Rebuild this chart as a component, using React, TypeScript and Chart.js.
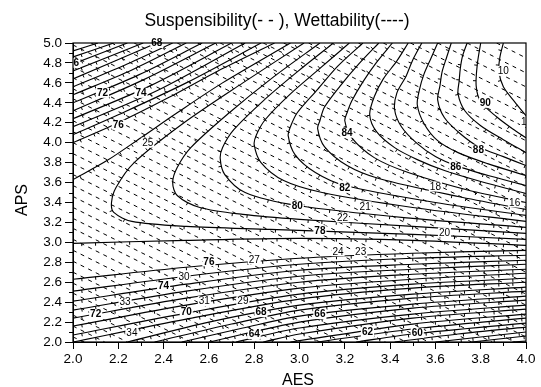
import React, { useEffect, useRef } from "react";
import { Chart, registerables } from "chart.js";

Chart.register(...registerables);

type Pt = [number, number];

const FONT = '"Liberation Sans", Arial, Helvetica, sans-serif';

// ---------- axis ----------
const xRange = [2.0, 4.0];
const yRange = [2.0, 5.0];
const xMinorTicks = [2.1, 2.3, 2.5, 2.7, 2.9, 3.1, 3.3, 3.5, 3.7, 3.9];
const yMinorTicks = [2.1, 2.3, 2.5, 2.7, 2.9, 3.1, 3.3, 3.5, 3.7, 3.9, 4.1, 4.3, 4.5, 4.7, 4.9];
const chartTitle = "Suspensibility(- - ), Wettability(----)";
const xTitle = "AES";
const yTitle = "APS";

// ---------- Suspensibility (solid contours) ----------
// upper-left family: left edge -> top edge
const suspUpperLeftLevels = [64, 65, 66, 67, 68, 69, 70, 71, 72, 73, 74, 75, 76, 77];
const suspUpperLeftLines: Pt[][] = [
  [[2, 4.92], [2.11, 5]],
  [[2, 4.86], [2.18, 5]],
  [[2, 4.79], [2.24, 5]],
  [[2, 4.72], [2.31, 5]],
  [[2, 4.64], [2.37, 5]],
  [[2, 4.56], [2.23, 4.78], [2.44, 5]],
  [[2, 4.48], [2.26, 4.73], [2.5, 5]],
  [[2, 4.4], [2.29, 4.68], [2.57, 5]],
  [[2, 4.32], [2.31, 4.63], [2.63, 5]],
  [[2, 4.24], [2.34, 4.57], [2.7, 5]],
  [[2, 4.16], [2.37, 4.52], [2.76, 5]],
  [[2, 4.08], [2.2, 4.28], [2.5, 4.6], [2.83, 5]],
  [[2, 4.0], [2.2, 4.2], [2.42, 4.45], [2.64, 4.72], [2.89, 5]],
  [[2, 3.63], [2.15, 3.82], [2.3, 4.05], [2.46, 4.3], [2.66, 4.6], [2.96, 5]],
];

// C-shaped family: top edge -> vertex -> right edge
const suspCurveLevels = [78, 79, 80, 81, 82, 83, 84, 85, 86, 87, 88, 89, 90, 91];
const suspCurveLines: Pt[][] = [
  [[3.02, 5], [2.75, 4.6], [2.49, 4.2], [2.27, 3.8], [2.19, 3.55], [2.17, 3.4], [2.18, 3.3], [2.26, 3.21], [2.5, 3.16], [2.87, 3.13], [3.5, 3.08], [4, 3.03]],
  [[3.09, 5], [2.88, 4.65], [2.69, 4.3], [2.52, 3.95], [2.46, 3.75], [2.44, 3.6], [2.46, 3.47], [2.56, 3.35], [2.75, 3.28], [3, 3.23], [3.5, 3.16], [4, 3.09]],
  [[3.15, 5], [2.99, 4.71], [2.84, 4.42], [2.71, 4.13], [2.66, 3.95], [2.65, 3.84], [2.67, 3.68], [2.76, 3.5], [2.99, 3.37], [3.5, 3.24], [4, 3.15]],
  [[3.22, 5], [3.09, 4.745], [2.96, 4.49], [2.85, 4.235], [2.81, 4.08], [2.8, 3.98], [2.83, 3.8], [2.93, 3.62], [3.1, 3.5], [3.5, 3.35], [4, 3.21]],
  [[3.28, 5], [3.17, 4.77], [3.08, 4.535], [2.99, 4.3], [2.96, 4.16], [2.95, 4.07], [2.98, 3.88], [3.07, 3.7], [3.2, 3.57], [3.6, 3.4], [4, 3.27]],
  [[3.35, 5], [3.26, 4.785], [3.18, 4.57], [3.11, 4.355], [3.09, 4.22], [3.08, 4.14], [3.11, 3.96], [3.21, 3.77], [3.35, 3.64], [3.7, 3.46], [4, 3.33]],
  [[3.41, 5], [3.34, 4.805], [3.28, 4.61], [3.23, 4.415], [3.21, 4.3], [3.2, 4.22], [3.23, 4.05], [3.33, 3.85], [3.48, 3.7], [3.75, 3.52], [4, 3.4]],
  [[3.48, 5], [3.43, 4.82], [3.37, 4.64], [3.33, 4.46], [3.31, 4.28], [3.34, 4.11], [3.42, 3.95], [3.52, 3.83], [3.64, 3.72], [3.8, 3.61], [4, 3.49]],
  [[3.54, 5], [3.5, 4.83], [3.47, 4.665], [3.43, 4.5], [3.42, 4.33], [3.45, 4.16], [3.52, 3.99], [3.6, 3.86], [3.69, 3.77], [3.85, 3.66], [4, 3.57]],
  [[3.61, 5], [3.58, 4.845], [3.55, 4.69], [3.53, 4.535], [3.52, 4.38], [3.55, 4.19], [3.61, 4.02], [3.7, 3.9], [3.83, 3.79], [4, 3.67]],
  [[3.67, 5], [3.65, 4.86], [3.63, 4.715], [3.62, 4.57], [3.61, 4.43], [3.64, 4.25], [3.71, 4.09], [3.79, 3.96], [3.9, 3.86], [4, 3.77]],
  [[3.74, 5], [3.72, 4.87], [3.71, 4.745], [3.705, 4.62], [3.7, 4.49], [3.73, 4.32], [3.8, 4.17], [3.9, 4.03], [4, 3.9]],
  [[3.8, 5], [3.785, 4.785], [3.78, 4.57], [3.8, 4.41], [3.87, 4.26], [3.94, 4.14], [4, 4.05]],
  [[3.9, 5], [3.885, 4.86], [3.88, 4.72], [3.9, 4.56], [3.95, 4.41], [4, 4.27]],
];

// lower family: left / bottom edge -> right edge
const suspLowerLevels = [77, 76, 75, 74, 73, 72, 71, 70, 69, 68, 67, 66, 65, 64, 63, 62, 61, 60, 59, 58, 57, 56];
const suspLowerLines: Pt[][] = [
  [[2, 2.99], [2.5, 3.02], [3, 3.04], [3.5, 3.02], [4, 2.97]],
  [[2, 2.63], [2.5, 2.75], [3, 2.84], [3.5, 2.89], [4, 2.92]],
  [[2, 2.51], [2.5, 2.66], [3, 2.78], [3.5, 2.84], [4, 2.87]],
  [[2, 2.41], [2.5, 2.58], [3, 2.72], [3.5, 2.78], [4, 2.82]],
  [[2, 2.32], [2.5, 2.51], [3, 2.66], [3.5, 2.73], [4, 2.78]],
  [[2, 2.24], [2.5, 2.44], [3, 2.6], [3.5, 2.68], [4, 2.73]],
  [[2, 2.16], [2.5, 2.37], [3, 2.54], [3.5, 2.63], [4, 2.69]],
  [[2, 2.07], [2.5, 2.29], [3, 2.48], [3.5, 2.58], [4, 2.64]],
  [[2, 2.0], [2.5, 2.23], [3, 2.43], [3.5, 2.54], [4, 2.6]],
  [[2.24, 2], [2.6, 2.2], [3, 2.37], [3.5, 2.48], [4, 2.55]],
  [[2.36, 2], [2.7, 2.18], [3, 2.32], [3.5, 2.44], [4, 2.51]],
  [[2.48, 2], [2.75, 2.14], [3, 2.26], [3.5, 2.38], [4, 2.46]],
  [[2.6, 2], [3, 2.2], [3.5, 2.34], [4, 2.42]],
  [[2.72, 2], [3, 2.14], [3.5, 2.28], [4, 2.37]],
  [[2.84, 2], [3, 2.08], [3.5, 2.24], [4, 2.33]],
  [[2.96, 2], [3.5, 2.18], [4, 2.28]],
  [[3.08, 2], [3.5, 2.13], [4, 2.24]],
  [[3.25, 2], [3.5, 2.08], [4, 2.19]],
  [[3.42, 2], [3.7, 2.08], [4, 2.15]],
  [[3.6, 2], [4, 2.1]],
  [[3.76, 2], [4, 2.06]],
  [[3.94, 2], [4, 2.01]],
];

// ---------- Wettability (dashed contours): upper-left end / lower-right end ----------
const wetLineStart: Pt[] = [
  [2, 2.05], [2, 2.16], [2, 2.27], [2, 2.38], [2, 2.49], [2, 2.59], [2, 2.7], [2, 2.81], [2, 2.92], [2, 3.03],
  [2, 3.14], [2, 3.24], [2, 3.35], [2, 3.46], [2, 3.57], [2, 3.68], [2, 3.79], [2, 3.89], [2, 4.0], [2, 4.11],
  [2, 4.22], [2, 4.33], [2, 4.44], [2, 4.54], [2, 4.65], [2, 4.76], [2, 4.87], [2, 4.98], [2.08, 5], [2.17, 5],
  [2.27, 5], [2.36, 5], [2.46, 5], [2.55, 5], [2.65, 5], [2.74, 5], [2.84, 5], [2.93, 5], [3.04, 5], [3.14, 5],
  [3.26, 5], [3.37, 5], [3.49, 5], [3.61, 5], [3.74, 5], [3.87, 5],
];
const wetLineEnd: Pt[] = [
  [2.05, 2], [2.14, 2], [2.24, 2], [2.33, 2], [2.43, 2], [2.52, 2], [2.62, 2], [2.71, 2], [2.81, 2], [2.9, 2],
  [3.0, 2], [3.09, 2], [3.19, 2], [3.28, 2], [3.38, 2], [3.47, 2], [3.57, 2], [3.66, 2], [3.76, 2], [3.85, 2],
  [3.95, 2], [4, 2.05], [4, 2.16], [4, 2.26], [4, 2.37], [4, 2.48], [4, 2.59], [4, 2.7], [4, 2.81], [4, 2.91],
  [4, 3.02], [4, 3.13], [4, 3.24], [4, 3.35], [4, 3.46], [4, 3.56], [4, 3.67], [4, 3.79], [4, 3.9], [4, 4.02],
  [4, 4.15], [4, 4.28], [4, 4.42], [4, 4.56], [4, 4.7], [4, 4.85],
];

// ---------- contour labels ----------
const suspLabelText = ["68", "6", "72", "74", "76", "84", "82", "80", "78", "86", "88", "90", "76", "74", "72", "70", "68", "66", "64", "62", "60"];
const suspLabelX = [2.37, 2.015, 2.13, 2.3, 2.2, 3.21, 3.2, 2.99, 3.09, 3.69, 3.79, 3.82, 2.6, 2.4, 2.1, 2.5, 2.83, 3.09, 2.8, 3.3, 3.52];
const suspLabelY = [5.0, 4.8, 4.5, 4.5, 4.18, 4.1, 3.55, 3.37, 3.12, 3.76, 3.93, 4.4, 2.81, 2.56, 2.28, 2.3, 2.3, 2.28, 2.08, 2.1, 2.09];

const wetLabelText = ["25", "27", "30", "33", "31", "29", "34", "24", "23", "22", "21", "20", "18", "16", "10", "1"];
const wetLabelX = [2.33, 2.8, 2.49, 2.23, 2.58, 2.75, 2.26, 3.17, 3.27, 3.19, 3.29, 3.64, 3.6, 3.95, 3.9, 3.99];
const wetLabelY = [4.0, 2.83, 2.65, 2.4, 2.41, 2.41, 2.09, 2.91, 2.91, 3.25, 3.36, 3.1, 3.56, 3.4, 4.72, 4.21];

const toXY = (pts: Pt[]) => pts.map(([x, y]) => ({ x, y }));

const solidStyle = {
  borderColor: "#000",
  borderWidth: 1.15,
  pointRadius: 0,
  showLine: true,
  tension: 0.3,
  fill: false,
  solid: true,
};

const dashedStyle = {
  borderColor: "#000",
  borderWidth: 1,
  borderDash: [4, 4.5],
  pointRadius: 0,
  showLine: true,
  tension: 0,
  fill: false,
};

// small tick marks drawn along the solid contours (following the drawn curve)
function drawContourTicks(chart: any) {
  const { ctx, chartArea } = chart;
  const spacing = 15;
  ctx.save();
  ctx.beginPath();
  ctx.rect(chartArea.left, chartArea.top, chartArea.right - chartArea.left, chartArea.bottom - chartArea.top);
  ctx.clip();
  ctx.strokeStyle = "#000";
  ctx.lineWidth = 1;
  ctx.beginPath();
  chart.data.datasets.forEach((ds: any, i: number) => {
    if (!ds.solid) return;
    const els = chart.getDatasetMeta(i).data as any[];
    let acc = spacing / 2;
    for (let j = 0; j < els.length - 1; j++) {
      const a = els[j];
      const b = els[j + 1];
      const c1x = a.cp2x ?? a.x;
      const c1y = a.cp2y ?? a.y;
      const c2x = b.cp1x ?? b.x;
      const c2y = b.cp1y ?? b.y;
      let px = a.x;
      let py = a.y;
      const steps = 24;
      for (let s = 1; s <= steps; s++) {
        const t = s / steps;
        const u = 1 - t;
        const qx = u * u * u * a.x + 3 * u * u * t * c1x + 3 * u * t * t * c2x + t * t * t * b.x;
        const qy = u * u * u * a.y + 3 * u * u * t * c1y + 3 * u * t * t * c2y + t * t * t * b.y;
        const dx = qx - px;
        const dy = qy - py;
        const len = Math.hypot(dx, dy);
        if (len > 0) {
          acc += len;
          if (acc >= spacing) {
            acc -= spacing;
            const nx = -dy / len;
            const ny = dx / len;
            ctx.moveTo(qx, qy);
            ctx.lineTo(qx + nx * 3, qy + ny * 3);
          }
        }
        px = qx;
        py = qy;
      }
    }
  });
  ctx.stroke();
  ctx.restore();
}

const decorPlugin = {
  id: "decor",
  beforeDraw(chart: any) {
    const { ctx } = chart;
    ctx.save();
    ctx.fillStyle = "#fff";
    ctx.fillRect(0, 0, chart.width, chart.height);
    ctx.restore();
  },
  afterDatasetsDraw(chart: any) {
    drawContourTicks(chart);
    const { ctx, scales } = chart;
    const xs = scales.x;
    const ys = scales.y;
    ctx.save();
    const draw = (texts: string[], lx: number[], ly: number[], font: string) => {
      ctx.font = font;
      ctx.textAlign = "center";
      ctx.textBaseline = "middle";
      texts.forEach((t, i) => {
        const px = xs.getPixelForValue(lx[i]);
        const py = ys.getPixelForValue(ly[i]);
        const w = ctx.measureText(t).width;
        ctx.fillStyle = "#fff";
        ctx.fillRect(px - w / 2 - 1, py - 5, w + 2, 10);
        ctx.fillStyle = "#000";
        ctx.fillText(t, px, py + 0.5);
      });
    };
    draw(suspLabelText, suspLabelX, suspLabelY, `bold 10px ${FONT}`);
    draw(wetLabelText, wetLabelX, wetLabelY, `10px ${FONT}`);
    ctx.restore();
  },
  afterDraw(chart: any) {
    const { ctx, chartArea, scales } = chart;
    const { left, right, top, bottom } = chartArea;
    ctx.save();
    ctx.strokeStyle = "#000";
    ctx.lineWidth = 1.2;
    ctx.strokeRect(left, top, right - left, bottom - top);
    // minor ticks
    ctx.lineWidth = 1;
    ctx.beginPath();
    xMinorTicks.forEach((v) => {
      const p = Math.round(scales.x.getPixelForValue(v)) + 0.5;
      ctx.moveTo(p, bottom);
      ctx.lineTo(p, bottom + 4);
    });
    yMinorTicks.forEach((v) => {
      const p = Math.round(scales.y.getPixelForValue(v)) + 0.5;
      ctx.moveTo(left, p);
      ctx.lineTo(left - 4, p);
    });
    ctx.stroke();
    // titles
    ctx.fillStyle = "#000";
    ctx.textAlign = "center";
    ctx.textBaseline = "alphabetic";
    ctx.font = `17.5px ${FONT}`;
    ctx.fillText(chartTitle, 277, 26);
    ctx.font = `16px ${FONT}`;
    ctx.fillText(xTitle, 298, 385);
    ctx.translate(27, 200);
    ctx.rotate(-Math.PI / 2);
    ctx.fillText(yTitle, 0, 0);
    ctx.restore();
  },
};

export default function App() {
  const ref = useRef<HTMLCanvasElement>(null);

  useEffect(() => {
    if (!ref.current) return;
    const datasets: any[] = [];
    wetLineStart.forEach((s, i) => {
      datasets.push({ ...dashedStyle, label: `W${i}`, data: toXY([s, wetLineEnd[i]]) });
    });
    suspUpperLeftLines.forEach((pts, i) => {
      datasets.push({ ...solidStyle, label: `S${suspUpperLeftLevels[i]}a`, data: toXY(pts) });
    });
    suspCurveLines.forEach((pts, i) => {
      datasets.push({ ...solidStyle, label: `S${suspCurveLevels[i]}`, data: toXY(pts) });
    });
    suspLowerLines.forEach((pts, i) => {
      datasets.push({ ...solidStyle, label: `S${suspLowerLevels[i]}b`, data: toXY(pts) });
    });

    const tickFont = { family: FONT, size: 13.5 };
    const chart = new Chart(ref.current, {
      type: "scatter",
      data: { datasets },
      options: {
        responsive: false,
        devicePixelRatio: 1,
        animation: false,
        layout: { padding: { top: 43, right: 15, left: 0, bottom: 0 } },
        plugins: { legend: { display: false }, tooltip: { enabled: false }, title: { display: false } },
        scales: {
          x: {
            type: "linear",
            min: xRange[0],
            max: xRange[1],
            ticks: {
              stepSize: 0.2,
              color: "#000",
              font: tickFont,
              padding: 2,
              maxRotation: 0,
              autoSkip: false,
              callback: (v: any) => Number(v).toFixed(1),
            },
            grid: { drawOnChartArea: false, drawTicks: true, tickLength: 7, color: "#000", tickColor: "#000" },
            border: { display: true, color: "#000" },
            afterFit: (s: any) => {
              s.height = 45;
            },
          },
          y: {
            type: "linear",
            min: yRange[0],
            max: yRange[1],
            ticks: {
              stepSize: 0.2,
              color: "#000",
              font: tickFont,
              padding: 3,
              autoSkip: false,
              callback: (v: any) => Number(v).toFixed(1),
            },
            grid: { drawOnChartArea: false, drawTicks: true, tickLength: 8, color: "#000", tickColor: "#000" },
            border: { display: true, color: "#000" },
            afterFit: (s: any) => {
              s.width = 73;
            },
          },
        },
      },
      plugins: [decorPlugin],
    } as any);
    return () => chart.destroy();
  }, []);

  return (
    <div style={{ position: "fixed", left: 0, top: 0, width: 541, height: 387, background: "#fff" }}>
      <canvas ref={ref} width={541} height={387} style={{ width: 541, height: 387, display: "block" }} />
    </div>
  );
}
